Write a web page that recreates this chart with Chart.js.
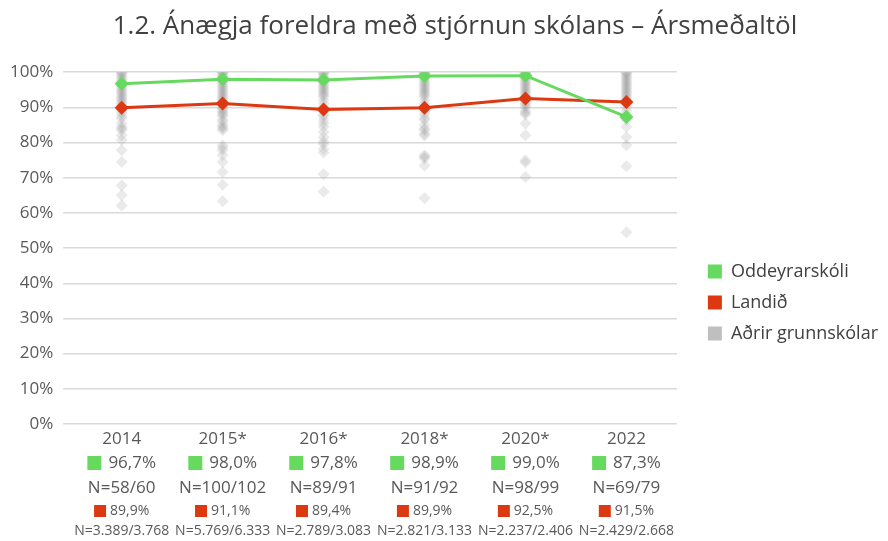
<!DOCTYPE html>
<html>
<head>
<meta charset="utf-8">
<script src="https://cdn.jsdelivr.net/npm/chart.js@4"></script>
<style>
  html,body{margin:0;padding:0;background:#fff;}
  #wrap{width:888px;height:541px;}
</style>
</head>
<body>
<div id="wrap"><canvas id="c" width="888" height="541"></canvas></div>
<script>
// Data
const years=['2014','2015*','2016*','2018*','2020*','2022'];
const oddeyri=[96.7,98.0,97.8,98.9,99.0,87.3];
const landid=[89.9,91.1,89.4,89.9,92.5,91.5];
const oddeyriN=['N=58/60','N=100/102','N=89/91','N=91/92','N=98/99','N=69/79'];
const landidN=['N=3.389/3.768','N=5.769/6.333','N=2.789/3.083','N=2.821/3.133','N=2.237/2.406','N=2.429/2.668'];
const yTicks=[0,10,20,30,40,50,60,70,80,90,100];

// Aðrir grunnskólar, one list per year (estimated)
const others2014=[100,100,99.5,99,98.5,98,97.5,97,96.5,96,95.5,95,94.5,94,93.5,93,92.5,92,91.5,91,90.5,90,89.5,89,88.3,87.5,86.9,85.5,84.5,84,83.5,82.1,80.7,77.8,74.5,67.8,65,62.1];
const others2015=[100,100,99.6,99.2,98.8,98.4,98,97.5,97,96.5,96,95.5,95,94.5,94,93.5,93,92.5,92,91.5,91,90.5,90,89.5,89,88.5,88,87.5,86.5,85.9,85,84.5,84,83.5,79.2,78.5,77.8,76.4,74.5,71.6,68,63.3];
const others2016=[100,100,99.5,99,98.5,98,97.5,97,96.5,96,95.5,95,94.5,94,93.5,93,92,91,90,89,88,87.5,86.5,85.5,84.5,83,81.5,80.2,79.6,78.2,77.2,71,66];
const others2018=[100,100,99.7,99.4,99,98.5,98,97.5,97,96.5,96,95.5,95,94.5,94,93.5,93,92,91,90,89,88,87,86.5,85,84,83.5,82.5,82,76.4,76,75.5,73.5,64.2];
const others2020=[100,100,99.7,99.4,99,98.5,98,97.5,97,96.5,96,95.5,95,94.5,94,93.5,93,92.5,92,91.5,91,90.5,90,89,88.5,88,85.4,82.1,75,74.3,70.2];
const others2022=[100,100,99.5,99,98.5,98,97.5,97,96.5,96,95.5,95,94.5,94,93.5,93,92.5,92,91,90,89,88,86.5,84.5,81.6,79.2,73.3,54.5];
const othersByYear=[others2014,others2015,others2016,others2018,others2020,others2022];

// Colours
const C={green:'#66d95f',red:'#dc3912',gray:'#bfbfbf',grayPt:'rgba(150,150,150,0.2)',text:'#595959',grid:'#d9d9d9'};
const FONT='"Open Sans", Lato, sans-serif';

const fmt=v=>v.toFixed(1).replace('.',',')+'%';
const othersPts=[];
othersByYear.forEach((arr,i)=>arr.forEach(v=>othersPts.push({x:years[i],y:v})));

// Draws the value / N rows under each year label
const bottomRows={
  id:'bottomRows',
  afterLayout(chart){
    // keep an 18px gap between plot and legend, title a bit right of centre
    if(chart.legend){chart.legend.left+=18;chart.legend.right+=18;}
    if(chart.titleBlock){chart.titleBlock.left+=20;chart.titleBlock.right+=20;}
  },
  afterDraw(chart){
    const ctx=chart.ctx, xs=chart.scales.x;
    ctx.save();
    ctx.textBaseline='middle';
    years.forEach((y,i)=>{
      const x=xs.getPixelForValue(i);
      // green row
      ctx.font='17px '+FONT;
      let t=fmt(oddeyri[i]), tw=ctx.measureText(t).width, tot=14+7+tw, x0=x-tot/2;
      ctx.fillStyle=C.green; ctx.fillRect(x0,456,14,14);
      ctx.fillStyle=C.text; ctx.textAlign='left'; ctx.fillText(t,x0+21,463);
      ctx.textAlign='center'; ctx.fillText(oddeyriN[i],x,488);
      // red row
      ctx.font='14px '+FONT;
      t=fmt(landid[i]); tw=ctx.measureText(t).width; tot=12+4+tw; x0=x-tot/2;
      ctx.fillStyle=C.red; ctx.fillRect(x0,505,12,12);
      ctx.fillStyle=C.text; ctx.textAlign='left'; ctx.fillText(t,x0+16,511.5);
      ctx.textAlign='center'; ctx.fillText(landidN[i],x,531);
    });
    ctx.restore();
  }
};

new Chart(document.getElementById('c'),{
  type:'line',
  data:{
    labels:years,
    datasets:[
      {label:'Oddeyrarskóli',data:oddeyri,borderColor:C.green,backgroundColor:C.green,borderWidth:3,pointStyle:'rectRot',pointRadius:7,pointBorderWidth:0,order:1},
      {label:'Landið',data:landid,borderColor:C.red,backgroundColor:C.red,borderWidth:3,pointStyle:'rectRot',pointRadius:7,pointBorderWidth:0,order:2},
      {label:'Aðrir grunnskólar',data:othersPts,showLine:false,backgroundColor:C.grayPt,borderColor:'transparent',pointStyle:'rectRot',pointRadius:6,pointBorderWidth:0,order:3}
    ]
  },
  options:{
    responsive:false,animation:false,
    layout:{padding:{left:0,right:18,top:0,bottom:0}},
    plugins:{
      title:{display:true,text:'1.2. Ánægja foreldra með stjórnun skólans – Ársmeðaltöl',color:'#404040',font:{family:FONT,size:26,weight:'normal'},padding:{top:11,bottom:30}},
      legend:{position:'right',
        title:{display:true,text:' ',font:{size:10},padding:{top:30,bottom:22}},
        labels:{boxWidth:14,boxHeight:14,padding:13,color:'#404040',font:{family:FONT,size:18},
        generateLabels(chart){
          return chart.data.datasets.map((d,i)=>({text:d.label,fillStyle:[C.green,C.red,C.gray][i],strokeStyle:[C.green,C.red,C.gray][i],lineWidth:0,datasetIndex:i,fontColor:'#404040'}));
        }}},
      tooltip:{enabled:false}
    },
    scales:{
      x:{type:'category',offset:true,grid:{display:false},border:{display:false},
        ticks:{color:C.text,font:{family:FONT,size:17},padding:-3},
        afterFit(s){s.height=117;}},
      y:{min:0,max:100,grid:{color:C.grid,lineWidth:1.5},border:{display:false},
        afterBuildTicks(s){s.ticks=yTicks.map(v=>({value:v}));},
        ticks:{color:C.text,font:{family:FONT,size:17},padding:10,callback:v=>v+'%'}}
    }
  },
  plugins:[bottomRows]
});
</script>
</body>
</html>
